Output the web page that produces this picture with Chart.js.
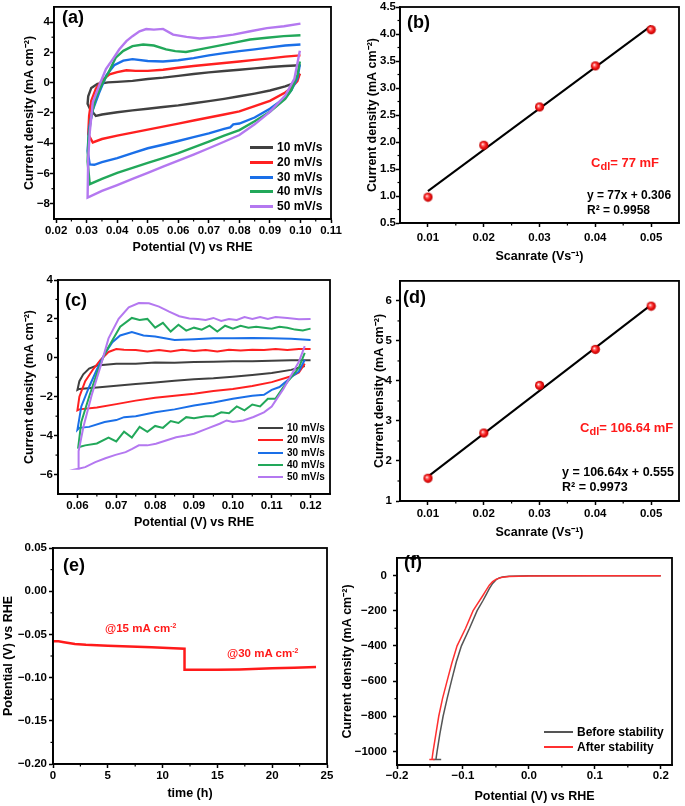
<!DOCTYPE html>
<html>
<head>
<meta charset="utf-8">
<script src="https://cdn.jsdelivr.net/npm/chart.js@4.4.1/dist/chart.umd.min.js"></script>
<style>
  body { margin: 0; background: #fff; }
  #wrap { position: relative; width: 685px; height: 806px; overflow: hidden;
          font-family: 'Liberation Sans', Arial, sans-serif; font-weight: bold; color: #000; }
  #wrap canvas { position: absolute; }
  .t { position: absolute; white-space: nowrap; line-height: 1; transform: translateY(-50%); }
  .lab { font-size: 18px; }
  .red { color: #ff1a1a; }
  .t sub { font-size: 0.85em; vertical-align: -0.3em; line-height: 0; }
  .t sup { font-size: 0.6em; vertical-align: 0.6em; line-height: 0; }
  .lg { position: absolute; display: flex; align-items: center; white-space: nowrap; line-height: 1;
        transform: translateY(-50%); }
  .lg i { display: inline-block; margin-right: 4px; }
</style>
</head>
<body>
<div id="wrap">
  <canvas id="cA" width="345" height="262" style="left:0;top:0"></canvas>
  <canvas id="cB" width="345" height="270" style="left:340px;top:0"></canvas>
  <canvas id="cC" width="345" height="270" style="left:0;top:265px"></canvas>
  <canvas id="cD" width="345" height="275" style="left:340px;top:270px"></canvas>
  <canvas id="cE" width="345" height="271" style="left:0;top:535px"></canvas>
  <canvas id="cF" width="345" height="261" style="left:340px;top:545px"></canvas>

  <div class="t lab" style="left:62px;top:17px">(a)</div>
  <div class="t lab" style="left:407px;top:22px">(b)</div>
  <div class="t lab" style="left:65px;top:300px">(c)</div>
  <div class="t lab" style="left:403px;top:297px">(d)</div>
  <div class="t lab" style="left:63px;top:565px">(e)</div>
  <div class="t lab" style="left:404px;top:562px">(f)</div>

  <div class="lg" style="left:250px;top:147px;font-size:12px"><i style="width:23px;height:3px;background:#404040"></i>10 mV/s</div>
  <div class="lg" style="left:250px;top:162px;font-size:12px"><i style="width:23px;height:3px;background:#ff2020"></i>20 mV/s</div>
  <div class="lg" style="left:250px;top:177px;font-size:12px"><i style="width:23px;height:3px;background:#1a6fe8"></i>30 mV/s</div>
  <div class="lg" style="left:250px;top:191px;font-size:12px"><i style="width:23px;height:3px;background:#22a85a"></i>40 mV/s</div>
  <div class="lg" style="left:250px;top:206px;font-size:12px"><i style="width:23px;height:3px;background:#b478f0"></i>50 mV/s</div>

  <div class="lg" style="left:258px;top:428px;font-size:10px"><i style="width:25px;height:2.5px;background:#404040"></i>10 mV/s</div>
  <div class="lg" style="left:258px;top:440px;font-size:10px"><i style="width:25px;height:2.5px;background:#ff2020"></i>20 mV/s</div>
  <div class="lg" style="left:258px;top:453px;font-size:10px"><i style="width:25px;height:2.5px;background:#1a6fe8"></i>30 mV/s</div>
  <div class="lg" style="left:258px;top:465px;font-size:10px"><i style="width:25px;height:2.5px;background:#22a85a"></i>40 mV/s</div>
  <div class="lg" style="left:258px;top:477px;font-size:10px"><i style="width:25px;height:2.5px;background:#b478f0"></i>50 mV/s</div>

  <div class="t red" style="left:591px;top:162px;font-size:13px">C<sub>dl</sub>= 77 mF</div>
  <div class="t" style="left:587px;top:195px;font-size:12px">y = 77x + 0.306</div>
  <div class="t" style="left:587px;top:210px;font-size:12px">R² = 0.9958</div>

  <div class="t red" style="left:580px;top:427px;font-size:13px">C<sub>dl</sub>= 106.64 mF</div>
  <div class="t" style="left:562px;top:472px;font-size:12.5px">y = 106.64x + 0.555</div>
  <div class="t" style="left:562px;top:487px;font-size:12.5px">R² = 0.9973</div>

  <div class="t red" style="left:105px;top:629px;font-size:11.5px">@15 mA cm<sup>-2</sup></div>
  <div class="t red" style="left:227px;top:654px;font-size:11.5px">@30 mA cm<sup>-2</sup></div>

  <div class="lg" style="left:544px;top:732px;font-size:12px"><i style="width:29px;height:2px;background:#555"></i>Before stability</div>
  <div class="lg" style="left:544px;top:747px;font-size:12px"><i style="width:29px;height:2px;background:#ff3030"></i>After stability</div>
</div>

<script>
// ---------- data ----------
// (a) CV curves, potential (V) and current density (mA cm-2)
const potA10 = [0.0998, 0.0985, 0.097, 0.095, 0.09, 0.085, 0.08, 0.075, 0.07, 0.065, 0.06, 0.055, 0.05, 0.045, 0.04, 0.035, 0.033, 0.031, 0.0303, 0.0305, 0.0315, 0.0335, 0.037, 0.04, 0.045, 0.05, 0.055, 0.06, 0.065, 0.07, 0.075, 0.08, 0.085, 0.09, 0.095, 0.1];
const curA10 = [0.6, 0.15, -0.1, -0.25, -0.52, -0.72, -0.9, -1.07, -1.22, -1.36, -1.5, -1.61, -1.72, -1.83, -1.95, -2.1, -2.2, -1.7, -1.4, -0.9, -0.35, -0.09, 0.02, 0.05, 0.12, 0.24, 0.33, 0.45, 0.57, 0.68, 0.77, 0.85, 0.94, 1.03, 1.1, 1.15];
const potA20 = [0.0998, 0.099, 0.097, 0.095, 0.09, 0.085, 0.08, 0.075, 0.07, 0.065, 0.06, 0.055, 0.05, 0.045, 0.04, 0.035, 0.032, 0.0305, 0.0308, 0.0315, 0.033, 0.035, 0.0375, 0.04, 0.043, 0.046, 0.05, 0.055, 0.06, 0.065, 0.07, 0.075, 0.08, 0.085, 0.09, 0.095, 0.1];
const curA20 = [0.6, 0.1, -0.35, -0.65, -1.2, -1.55, -1.9, -2.1, -2.3, -2.5, -2.7, -2.9, -3.1, -3.3, -3.5, -3.72, -3.95, -3.4, -2.2, -1.2, -0.4, 0.15, 0.55, 0.7, 0.82, 0.78, 0.78, 0.85, 0.98, 1.1, 1.2, 1.3, 1.4, 1.5, 1.6, 1.72, 1.8];
const potA30 = [0.0998, 0.099, 0.097, 0.095, 0.09, 0.085, 0.08, 0.078, 0.077, 0.075, 0.07, 0.065, 0.06, 0.055, 0.05, 0.045, 0.04, 0.035, 0.0325, 0.031, 0.0303, 0.0308, 0.032, 0.034, 0.0365, 0.039, 0.042, 0.045, 0.05, 0.055, 0.06, 0.065, 0.07, 0.075, 0.08, 0.085, 0.09, 0.095, 0.1];
const curA30 = [1.2, 0.3, -0.5, -1.0, -1.72, -2.3, -2.7, -2.75, -2.95, -3.05, -3.35, -3.6, -3.85, -4.1, -4.33, -4.65, -4.98, -5.25, -5.42, -5.4, -4.5, -3.0, -1.8, -0.7, 0.5, 1.15, 1.45, 1.55, 1.43, 1.4, 1.48, 1.62, 1.8, 1.95, 2.08, 2.2, 2.33, 2.45, 2.52];
const potA40 = [0.0998, 0.099, 0.097, 0.095, 0.09, 0.085, 0.08, 0.075, 0.07, 0.065, 0.06, 0.055, 0.05, 0.045, 0.04, 0.035, 0.031, 0.0303, 0.0306, 0.0315, 0.033, 0.035, 0.037, 0.0395, 0.042, 0.045, 0.0485, 0.052, 0.056, 0.059, 0.0625, 0.067, 0.0725, 0.078, 0.0835, 0.089, 0.0945, 0.1];
const curA40 = [1.4, 0.5, -0.5, -1.07, -1.93, -2.55, -3.13, -3.5, -3.89, -4.27, -4.65, -4.98, -5.3, -5.63, -5.96, -6.35, -6.7, -5.2, -3.6, -2.2, -1.0, -0.1, 0.6, 1.65, 2.1, 2.41, 2.52, 2.45, 2.2, 2.08, 2.02, 2.2, 2.41, 2.63, 2.85, 2.96, 3.07, 3.13];
const potA50 = [0.0998, 0.098, 0.095, 0.09, 0.085, 0.08, 0.075, 0.07, 0.065, 0.06, 0.055, 0.05, 0.045, 0.04, 0.035, 0.0303, 0.0305, 0.031, 0.032, 0.034, 0.0363, 0.0385, 0.0407, 0.043, 0.045, 0.0473, 0.0495, 0.052, 0.055, 0.0583, 0.0627, 0.067, 0.0726, 0.078, 0.0836, 0.089, 0.0946, 0.1];
const curA50 = [2.1, 0.25, -0.85, -1.93, -2.75, -3.46, -3.9, -4.33, -4.75, -5.15, -5.55, -5.96, -6.35, -6.76, -7.15, -7.59, -5.0, -3.3, -1.3, -0.24, 0.89, 1.54, 2.2, 2.74, 3.07, 3.39, 3.54, 3.5, 3.55, 3.17, 3.02, 2.91, 3.02, 3.17, 3.39, 3.6, 3.72, 3.9];

// (b) scan rate vs current density
const rateB = [0.01, 0.02, 0.03, 0.04, 0.05];
const curB = [0.98, 1.94, 2.65, 3.41, 4.08];
const fitXB = [0.01, 0.05];
const fitYB = [1.09, 4.15];

// (c) CV curves
const potC10 = [0.1185, 0.115, 0.11, 0.105, 0.1, 0.095, 0.09, 0.085, 0.08, 0.075, 0.07, 0.065, 0.0605, 0.06, 0.0605, 0.0615, 0.063, 0.065, 0.07, 0.075, 0.08, 0.085, 0.09, 0.095, 0.1, 0.105, 0.11, 0.115, 0.12];
const curC10 = [-0.42, -0.62, -0.78, -0.88, -0.97, -1.05, -1.1, -1.18, -1.27, -1.35, -1.43, -1.52, -1.6, -1.65, -1.2, -0.85, -0.55, -0.4, -0.3, -0.3, -0.24, -0.25, -0.22, -0.2, -0.18, -0.17, -0.15, -0.13, -0.12];
const potC20 = [0.1185, 0.117, 0.115, 0.11, 0.105, 0.1, 0.095, 0.09, 0.085, 0.08, 0.075, 0.07, 0.065, 0.0605, 0.06, 0.0605, 0.062, 0.064, 0.066, 0.068, 0.07, 0.072, 0.075, 0.078, 0.081, 0.084, 0.087, 0.09, 0.093, 0.096, 0.099, 0.102, 0.105, 0.108, 0.111, 0.114, 0.117, 0.12];
const curC20 = [-0.3, -0.75, -0.95, -1.25, -1.45, -1.6, -1.7, -1.85, -1.95, -2.05, -2.2, -2.38, -2.55, -2.65, -2.7, -2.0, -1.2, -0.6, -0.1, 0.3, 0.45, 0.42, 0.4, 0.33, 0.4, 0.32, 0.42, 0.35, 0.4, 0.33, 0.42, 0.38, 0.42, 0.4, 0.45, 0.4, 0.45, 0.45];
const potC30 = [0.1185, 0.117, 0.115, 0.112, 0.11, 0.108, 0.105, 0.1, 0.095, 0.09, 0.085, 0.08, 0.075, 0.072, 0.07, 0.067, 0.063, 0.0605, 0.06, 0.061, 0.063, 0.065, 0.067, 0.069, 0.071, 0.074, 0.077, 0.08, 0.085, 0.09, 0.095, 0.1, 0.105, 0.11, 0.115, 0.12];
const curC30 = [-0.1, -0.7, -1.0, -1.5, -1.65, -1.9, -1.95, -2.1, -2.3, -2.45, -2.65, -2.8, -3.0, -3.05, -3.2, -3.3, -3.55, -3.6, -3.7, -2.5, -1.5, -0.6, 0.2, 0.8, 1.15, 1.32, 1.15, 1.1, 0.92, 0.95, 1.0, 1.0, 1.02, 1.0, 0.98, 0.92];
const potC40 = [0.1185, 0.117, 0.115, 0.113, 0.111, 0.109, 0.107, 0.105, 0.103, 0.101, 0.099, 0.097, 0.095, 0.093, 0.09, 0.088, 0.086, 0.084, 0.082, 0.08, 0.078, 0.076, 0.074, 0.072, 0.07, 0.068, 0.065, 0.062, 0.0602, 0.061, 0.063, 0.065, 0.067, 0.069, 0.071, 0.074, 0.076, 0.078, 0.08, 0.082, 0.084, 0.086, 0.088, 0.09, 0.092, 0.094, 0.096, 0.098, 0.1, 0.102, 0.104, 0.106, 0.108, 0.11, 0.112, 0.114, 0.116, 0.118, 0.12];
const curC40 = [0.25, -0.5, -1.0, -1.5, -2.1, -2.1, -2.5, -2.4, -2.7, -2.5, -2.85, -2.8, -3.0, -3.0, -3.1, -3.05, -3.35, -3.25, -3.6, -3.5, -3.8, -3.55, -4.1, -3.8, -4.3, -4.1, -4.4, -4.5, -4.6, -3.3, -2.0, -0.8, 0.2, 0.9, 1.6, 2.05, 1.95, 2.0, 1.55, 1.8, 1.35, 1.7, 1.4, 1.55, 1.45, 1.65, 1.35, 1.65, 1.5, 1.65, 1.55, 1.6, 1.55, 1.5, 1.6, 1.55, 1.45, 1.4, 1.5];
const potC50 = [0.1185, 0.117, 0.115, 0.113, 0.111, 0.11, 0.108, 0.1053, 0.1027, 0.1, 0.0984, 0.0966, 0.0932, 0.09, 0.088, 0.0854, 0.0828, 0.0802, 0.078, 0.0758, 0.0741, 0.0724, 0.0698, 0.0672, 0.0646, 0.062, 0.0602, 0.0603, 0.0616, 0.0637, 0.066, 0.068, 0.0706, 0.0732, 0.0758, 0.0784, 0.081, 0.0836, 0.0862, 0.0888, 0.091, 0.093, 0.095, 0.097, 0.099, 0.101, 0.103, 0.105, 0.107, 0.109, 0.111, 0.114, 0.117, 0.12];
const curC50 = [0.6, -0.2, -0.9, -1.6, -2.2, -2.5, -2.8, -3.04, -3.22, -3.3, -3.22, -3.39, -3.65, -3.9, -3.99, -4.08, -4.25, -4.42, -4.5, -4.5, -4.68, -4.85, -4.99, -5.16, -5.36, -5.62, -5.7, -4.8, -3.5, -1.9, -0.4, 1.0, 2.0, 2.6, 2.82, 2.8, 2.63, 2.37, 2.14, 2.02, 2.0, 1.95, 2.05, 1.9, 2.0, 1.95, 2.1, 2.0, 2.1, 2.0, 2.1, 2.05, 1.98, 2.0];

// (d) scan rate vs current density
const rateD = [0.01, 0.02, 0.03, 0.04, 0.05];
const curD = [1.57, 2.70, 3.89, 4.79, 5.87];
const fitXD = [0.01, 0.05];
const fitYD = [1.61, 5.9];

// (e) chronopotentiometry
const timeE = [0, 0.5, 1, 2, 3, 5, 7, 9, 11, 12, 12, 13, 15, 17, 20, 22, 24];
const potE = [-0.058, -0.058, -0.059, -0.061, -0.062, -0.063, -0.064, -0.065, -0.066, -0.0665, -0.091, -0.091, -0.091, -0.0905, -0.0893, -0.0885, -0.0877];

// (f) polarisation curves
const potFBefore = [0.2, 0.1, 0, -0.03, -0.04, -0.045, -0.05, -0.055, -0.06, -0.065, -0.07, -0.0785, -0.09, -0.1023, -0.11, -0.1175, -0.124, -0.1301, -0.135, -0.1392, -0.141, -0.145, -0.133];
const curFBefore = [-1, -1, -2, -4, -8, -14, -25, -45, -75, -110, -145, -200, -300, -400, -490, -600, -700, -800, -900, -1000, -1046, -1046, -1046];
const potFAfter = [0.2, 0.1, 0, -0.03, -0.04, -0.045, -0.05, -0.055, -0.06, -0.065, -0.07, -0.0846, -0.096, -0.1089, -0.117, -0.1241, -0.131, -0.1367, -0.141, -0.1453, -0.147, -0.151, -0.143];
const curFAfter = [-2, -2, -3, -6, -10, -15, -22, -35, -55, -85, -115, -200, -300, -400, -500, -600, -700, -800, -900, -1000, -1046, -1046, -1046];

// tick values
const ticksAX = [0.02, 0.03, 0.04, 0.05, 0.06, 0.07, 0.08, 0.09, 0.10, 0.11];
const ticksAY = [-8, -6, -4, -2, 0, 2, 4];
const ticksBX = [0.01, 0.02, 0.03, 0.04, 0.05];
const ticksBY = [0.5, 1.0, 1.5, 2.0, 2.5, 3.0, 3.5, 4.0, 4.5];
const ticksCX = [0.06, 0.07, 0.08, 0.09, 0.10, 0.11, 0.12];
const ticksCY = [-6, -4, -2, 0, 2, 4];
const ticksDY = [1, 2, 3, 4, 5, 6];
const ticksEX = [0, 5, 10, 15, 20, 25];
const ticksEY = [-0.20, -0.15, -0.10, -0.05, 0.00, 0.05];
const ticksFX = [-0.2, -0.1, 0.0, 0.1, 0.2];
const ticksFY = [-1000, -800, -600, -400, -200, 0];

const labels = ['10 mV/s', '20 mV/s', '30 mV/s', '40 mV/s', '50 mV/s'];
const colors = ['#404040', '#ff2020', '#1a6fe8', '#22a85a', '#b478f0'];

// ---------- helpers ----------
Chart.defaults.font.family = "'Liberation Sans', Arial, sans-serif";
Chart.defaults.color = '#000';

function pts(xs, ys) { return xs.map((x, i) => ({ x: x, y: ys[i] })); }

function fmt(d) {
  return v => Number(v).toFixed(d).replace('-', '\u2212');
}

function minors(t, min, max) {
  const step = t[1] - t[0];
  const out = [t[0] - step / 2];
  t.forEach(v => out.push(v + step / 2));
  return out.filter(v => v > min + 1e-9 && v < max - 1e-9);
}

function axis(min, max, ticks, dec, title, size, tickPad, titlePad) {
  return {
    type: 'linear', min: min, max: max,
    afterBuildTicks: s => { s.ticks = ticks.map(v => ({ value: v })); },
    afterFit: s => { if (s.isHorizontal()) s.height = size; else s.width = size; },
    ticks: { callback: fmt(dec), font: { size: 11.5, weight: 'bold' }, color: '#000',
             padding: tickPad, maxRotation: 0, autoSkip: false },
    grid: { drawOnChartArea: false, drawTicks: true, tickLength: 4, tickWidth: 1.5, tickColor: '#000' },
    border: { display: true, color: '#000', width: 1.8 },
    title: { display: true, text: title, font: { size: 12.5, weight: 'bold' }, color: '#000', padding: titlePad }
  };
}

// frame round the plot area plus small minor ticks
function boxPlugin(minorX, minorY) {
  return {
    id: 'frameBox',
    afterDraw(chart) {
      const ctx = chart.ctx;
      const a = chart.chartArea;
      const sx = chart.scales.x, sy = chart.scales.y;
      ctx.save();
      ctx.strokeStyle = '#000';
      ctx.lineWidth = 1.2;
      for (const v of minorX) {
        const px = sx.getPixelForValue(v);
        ctx.beginPath(); ctx.moveTo(px, a.bottom); ctx.lineTo(px, a.bottom + 2.5); ctx.stroke();
      }
      for (const v of minorY) {
        const py = sy.getPixelForValue(v);
        ctx.beginPath(); ctx.moveTo(a.left, py); ctx.lineTo(a.left - 2.5, py); ctx.stroke();
      }
      ctx.lineWidth = 1.8;
      ctx.strokeRect(a.left, a.top, a.right - a.left, a.bottom - a.top);
      ctx.restore();
    }
  };
}

function sphere(r) {
  const c = document.createElement('canvas');
  c.width = c.height = 2 * r + 2;
  const g = c.getContext('2d');
  const m = r + 1;
  const grad = g.createRadialGradient(m - 1.3, m - 1.3, 0.2, m, m, r);
  grad.addColorStop(0, '#ffffff');
  grad.addColorStop(0.25, '#ff7070');
  grad.addColorStop(0.6, '#f21414');
  grad.addColorStop(1, '#b80000');
  g.fillStyle = grad;
  g.beginPath(); g.arc(m, m, r, 0, Math.PI * 2); g.fill();
  return c;
}
const ball = sphere(4.6);

function make(id, datasets, x, y, pad, minorX, minorY) {
  return new Chart(document.getElementById(id), {
    type: 'scatter',
    data: { datasets: datasets },
    options: {
      responsive: false, animation: false, events: [],
      layout: { padding: { top: pad.top, right: pad.right, left: 0, bottom: 0 } },
      plugins: { legend: { display: false }, tooltip: { enabled: false } },
      scales: { x: x, y: y }
    },
    plugins: [boxPlugin(minorX, minorY)]
  });
}

function cvSets(pots, curs, width) {
  return pots.map((p, i) => ({
    label: labels[i], data: pts(p, curs[i]), showLine: true, pointRadius: 0,
    borderColor: colors[i], borderWidth: width, tension: 0, order: 5 - i
  }));
}

// ---------- (a) ----------
make('cA',
  cvSets([potA10, potA20, potA30, potA40, potA50], [curA10, curA20, curA30, curA40, curA50], 2.4),
  axis(0.0193, 0.11, ticksAX, 2, 'Potential (V) vs RHE', 43, 1, 6.5),
  axis(-9, 5, ticksAY, 0, 'Current density (mA cm\u207B\u00B2)', 54, 0, 22.5),
  { top: 4, right: 14 },
  minors(ticksAX, 0.0193, 0.11), minors(ticksAY, -9, 5));

// ---------- (b) ----------
make('cB', [
    { data: pts(rateB, curB), showLine: false, pointStyle: ball, pointRadius: 5 },
    { data: pts(fitXB, fitYB), showLine: true, pointRadius: 0, borderColor: '#000', borderWidth: 2 }
  ],
  axis(0.005, 0.055, ticksBX, 2, 'Scanrate (Vs\u207B\u00B9)', 47, 4, 5.5),
  axis(0.5, 4.5, ticksBY, 1, 'Current density (mA cm\u207B\u00B2)', 60, 0, 25.5),
  { top: 7, right: 5 },
  minors(ticksBX, 0.005, 0.055), minors(ticksBY, 0.5, 4.5));

// ---------- (c) ----------
make('cC',
  cvSets([potC10, potC20, potC30, potC40, potC50], [curC10, curC20, curC30, curC40, curC50], 2),
  axis(0.055, 0.125, ticksCX, 2, 'Potential (V) vs RHE', 41, 1, 4.5),
  axis(-7, 4, ticksCY, 0, 'Current density (mA cm\u207B\u00B2)', 58, 1, 22.5),
  { top: 15, right: 15 },
  minors(ticksCX, 0.055, 0.125), minors(ticksCY, -7, 4));

// ---------- (d) ----------
make('cD', [
    { data: pts(rateD, curD), showLine: false, pointStyle: ball, pointRadius: 5 },
    { data: pts(fitXD, fitYD), showLine: true, pointRadius: 0, borderColor: '#000', borderWidth: 2 }
  ],
  axis(0.005, 0.055, ticksBX, 2, 'Scanrate (Vs\u207B\u00B9)', 44, 2, 4.5),
  axis(1, 6.5, ticksDY, 0, 'Current density (mA cm\u207B\u00B2)', 60, 4, 32.5),
  { top: 10, right: 3 },
  minors(ticksBX, 0.005, 0.055), minors(ticksDY, 1, 6.5));

// ---------- (e) ----------
make('cE', [
    { data: pts(timeE, potE), showLine: true, pointRadius: 0, borderColor: '#ff1a1a', borderWidth: 2.5 }
  ],
  axis(0, 25, ticksEX, 0, 'time (h)', 42, 1, 4.5),
  axis(-0.2, 0.05, ticksEY, 2, 'Potential (V) vs RHE', 53, 2, 1.5),
  { top: 13, right: 18 },
  minors(ticksEX, 0, 25), minors(ticksEY, -0.2, 0.05));

// ---------- (f) ----------
make('cF', [
    { label: 'After stability', data: pts(potFAfter, curFAfter), showLine: true, pointRadius: 0, borderColor: '#ff3030', borderWidth: 1.5 },
    { label: 'Before stability', data: pts(potFBefore, curFBefore), showLine: true, pointRadius: 0, borderColor: '#555', borderWidth: 1.5 }
  ],
  axis(-0.2, 0.217, ticksFX, 1, 'Potential (V) vs RHE', 41, 0, 1.5),
  axis(-1077, 100, ticksFY, 0, 'Current density (mA cm\u207B\u00B2)', 57, 6, 0.5),
  { top: 5, right: 13 },
  minors(ticksFX, -0.2, 0.217), minors(ticksFY, -1077, 100));
</script>
</body>
</html>
